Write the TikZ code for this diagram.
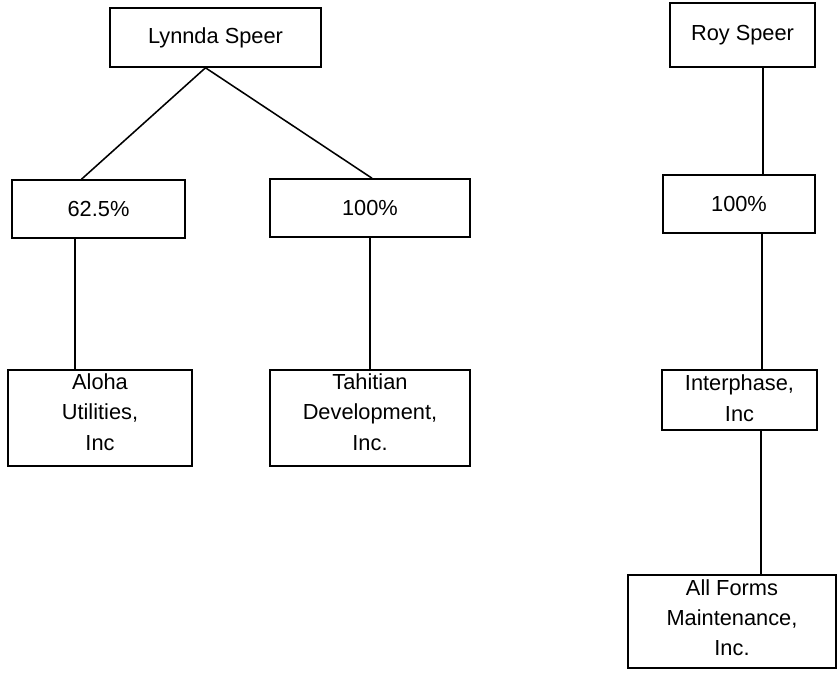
\documentclass[tikz,border=0pt]{standalone}
\usepackage{fontspec}
\setmainfont{Liberation Sans}
\usetikzlibrary{calc}

\begin{document}
\begin{tikzpicture}[
  x=0.025cm,y=-0.025cm,
  box/.style={draw,line width=1.1pt,inner sep=2pt,align=center,
    font=\fontsize{15.5}{21.5}\selectfont},
  tall/.style={text depth=0.3cm},
  link/.style={line width=1.1pt}
]
  \useasboundingbox (0,0) rectangle (837,679);

  % owners
  \node[box,minimum width=5.275cm,minimum height=1.475cm] (lynnda) at (215.5,37.5) {Lynnda Speer};
  \node[box,minimum width=3.625cm,minimum height=1.6cm] (roy) at (742.5,35) {Roy Speer};

  % shares
  \node[box,minimum width=4.325cm,minimum height=1.45cm] (pctA) at (98.5,209) {62.5\%};
  \node[box,minimum width=5cm,minimum height=1.45cm] (pctB) at (370,208) {100\%};
  \node[box,minimum width=3.8cm,minimum height=1.45cm] (pctC) at (739,204) {100\%};

  % companies
  \node[box,tall,minimum width=4.6cm,minimum height=2.4cm] (aloha) at (100,418) {Aloha\\Utilities,\\Inc};
  \node[box,tall,minimum width=5cm,minimum height=2.4cm] (tahitian) at (370,418) {Tahitian\\Development,\\Inc.};
  \node[box,minimum width=3.875cm,minimum height=1.5cm,text depth=0.1cm] (interphase) at (739.5,400) {Interphase,\\Inc};
  \node[box,tall,minimum width=5.2cm,minimum height=2.325cm,text depth=0.2cm] (allforms) at (732,621.5) {All Forms\\Maintenance,\\Inc.};

  \draw[link] ($(lynnda.south)+(-10,0)$) -- ($(pctA.north)+(-17,0)$);
  \draw[link] ($(lynnda.south)+(-10,0)$) -- ($(pctB.north)+(2,0)$);
  \draw[link] ($(pctA.south)+(-23.5,0)$) -- ($(aloha.north)+(-25,0)$);
  \draw[link] (pctB) -- (tahitian);

  \draw[link] ($(roy.south)+(20.5,0)$) -- ($(pctC.north)+(24,0)$);
  \draw[link] ($(pctC.south)+(23,0)$) -- ($(interphase.north)+(22.5,0)$);
  \draw[link] ($(interphase.south)+(21.5,0)$) -- ($(allforms.north)+(29,0)$);
\end{tikzpicture}
\end{document}
